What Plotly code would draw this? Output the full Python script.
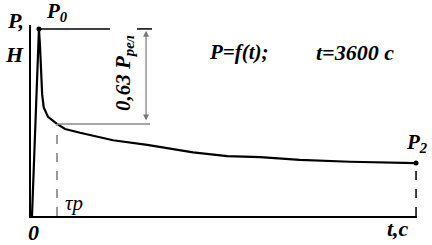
import plotly.graph_objects as go

# Data (time in s, force in arbitrary units, P0 = 100)
t_vals = [0, 65, 75, 85, 95, 110, 150, 234, 310, 450, 760, 1080, 1290, 1510, 1830, 2140, 2510, 2980, 3600]
p_vals = [0, 100, 91, 75, 65, 58, 53, 49.2, 46.5, 44.5, 40.5, 38, 36, 34, 32, 31.5, 30, 29, 28.3]
tau_index = 7
peak_index = 1

P0 = p_vals[peak_index]
t0 = t_vals[peak_index]
tau_t = t_vals[tau_index]
tau_p = p_vals[tau_index]
t_end = t_vals[-1]
p_end = p_vals[-1]

# helper positions for the 0.63 P_rel bracket (in seconds)
top_line_ends = [731, 984, 1125]
tau_line_end = 1106
arrow_t = 1069

FONT = "Liberation Serif, Times New Roman, serif"

fig = go.Figure()

fig.add_trace(go.Scatter(x=t_vals, y=p_vals, mode="lines",
                         line=dict(color="black", width=2.2), cliponaxis=False,
                         hoverinfo="skip", showlegend=False))
fig.add_trace(go.Scatter(x=[t0, t_end], y=[P0, p_end], mode="markers",
                         marker=dict(color="black", size=5), cliponaxis=False,
                         hoverinfo="skip", showlegend=False))

# reference lines
fig.add_shape(type="line", x0=t0, x1=top_line_ends[0], y0=P0, y1=P0,
              line=dict(color="black", width=1.5))
fig.add_shape(type="line", x0=top_line_ends[1], x1=top_line_ends[2], y0=P0, y1=P0,
              line=dict(color="black", width=1.5))
fig.add_shape(type="line", x0=tau_t, x1=tau_line_end, y0=tau_p, y1=tau_p,
              line=dict(color="#888888", width=1.5))
fig.add_shape(type="line", x0=tau_t, x1=tau_t, y0=0, y1=tau_p,
              line=dict(color="#999999", width=2, dash="dash"))
fig.add_shape(type="line", x0=t_end, x1=t_end, y0=0, y1=p_end,
              line=dict(color="black", width=1.5, dash="dash"))

# double arrow
fig.add_annotation(x=arrow_t, y=P0 - 1, ax=arrow_t, ay=tau_p + 1,
                   xref="x", yref="y", axref="x", ayref="y",
                   showarrow=True, arrowside="end+start", arrowhead=2,
                   arrowsize=1, arrowwidth=1.2, arrowcolor="#777777", text="")

W, H = 432, 245
L, R, T, B = 31, 15, 25, 29
pw, ph = W - L - R, H - T - B

def px(xp, yp):
    return (xp - L) / pw, (H - B - yp) / ph

def txt(xp, yp, s, size=19, angle=0, bold=True, color="black"):
    x, y = px(xp, yp)
    fig.add_annotation(x=x, y=y, xref="paper", yref="paper", text=s, showarrow=False,
                       textangle=angle,
                       font=dict(family=FONT, size=size, color=color,
                                 weight="bold" if bold else "normal", style="italic"),
                       xanchor="center", yanchor="middle")

txt(15, 20, "P,", 22)
txt(14, 54, "H", 22)
txt(57, 12, "P<sub>0</sub>", 21)
txt(33, 232, "0", 22)
txt(74, 203, "τp", 21, bold=False)
txt(398, 228, "t,c", 22)
txt(416, 143, "P<sub>2</sub>", 21)
txt(239, 52, "P=f(t);", 21)
txt(355, 52, "t=3600 c", 22)
txt(124, 73, "0,63 P<sub>рел</sub>", 21, angle=-90)

fig.update_layout(
    width=W, height=H,
    margin=dict(l=L, r=R, t=T, b=B),
    paper_bgcolor="white", plot_bgcolor="white",
    hovermode=False,
    xaxis=dict(range=[-9.4, 3609], showgrid=False, zeroline=False, showticklabels=False,
               ticks="", showline=True, linecolor="black", linewidth=2),
    yaxis=dict(range=[0, 102.1], showgrid=False, zeroline=False, showticklabels=False,
               ticks="", showline=True, linecolor="black", linewidth=2),
)

fig.write_html("out.html", config={"displayModeBar": False},
               post_script="document.body.style.margin='0';")
